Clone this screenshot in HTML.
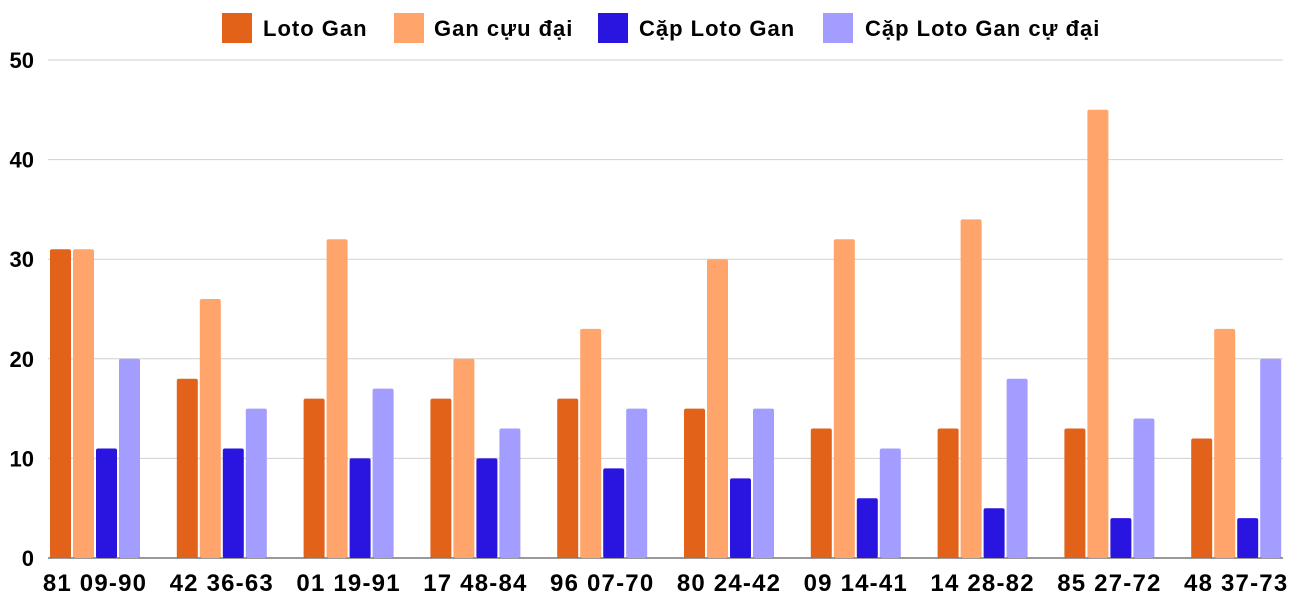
<!DOCTYPE html>
<html><head><meta charset="utf-8"><style>
html,body{margin:0;padding:0;background:#fff;}
svg{display:block;font-family:"Liberation Sans","Noto Sans CJK SC",sans-serif;font-weight:bold;}
</style></head><body>
<svg id="c" width="1300" height="600" xmlns="http://www.w3.org/2000/svg">
<g id="grid"></g>
<g id="bars"></g>
<g fill="#000" font-size="22" letter-spacing="1">
<rect x="222" y="13" width="30" height="30" fill="#e3621a"/><text x="263" y="36">Loto Gan</text>
<rect x="394" y="13" width="30" height="30" fill="#ffa56b"/><text x="434" y="36">Gan cựu đại</text>
<rect x="598" y="13" width="30" height="30" fill="#2a14e0"/><text x="639" y="36">Cặp Loto Gan</text>
<rect x="823" y="13" width="30" height="30" fill="#a29dff"/><text x="865" y="36">Cặp Loto Gan cự đại</text>
</g>
</svg>
<script>
var ns="http://www.w3.org/2000/svg",svg=document.getElementById('c');
function el(t,a,txt,p){var e=document.createElementNS(ns,t);for(var k in a)e.setAttribute(k,a[k]);if(txt!=null)e.textContent=txt;(p||svg).appendChild(e);return e;}
var g=document.getElementById('grid'),b=document.getElementById('bars');
var base=558,s=9.96;
for(var v=0;v<=50;v+=10){var y=base-v*s;
el('line',{x1:48,x2:1283,y1:y,y2:y,stroke:v==0?'#333':'#d0d0d0','stroke-width':1},null,g);
el('text',{x:34,y:y+8,'text-anchor':'end','font-size':22,fill:'#000'},String(v),g);}
var labels=["81 09-90","42 36-63","01 19-91","17 48-84","96 07-70","80 24-42","09 14-41","14 28-82","85 27-72","48 37-73"];
var d=[[31,18,16,16,16,15,13,13,13,12],[31,26,32,20,23,30,32,34,45,23],[11,11,10,10,9,8,6,5,4,4],[20,15,17,13,15,15,11,18,14,20]];
var cols=["#e3621a","#ffa56b","#2a14e0","#a29dff"];
for(var i=0;i<10;i++){var x0=50+i*126.8;
for(var j=0;j<4;j++){var h=d[j][i]*s;
el('rect',{x:x0+j*23,y:base-h,width:21,height:h,fill:cols[j],rx:2},null,b);}
el('text',{x:x0+45,y:591,'text-anchor':'middle','font-size':24,'letter-spacing':1.2,fill:'#000'},labels[i],g);}
</script>
</body></html>
